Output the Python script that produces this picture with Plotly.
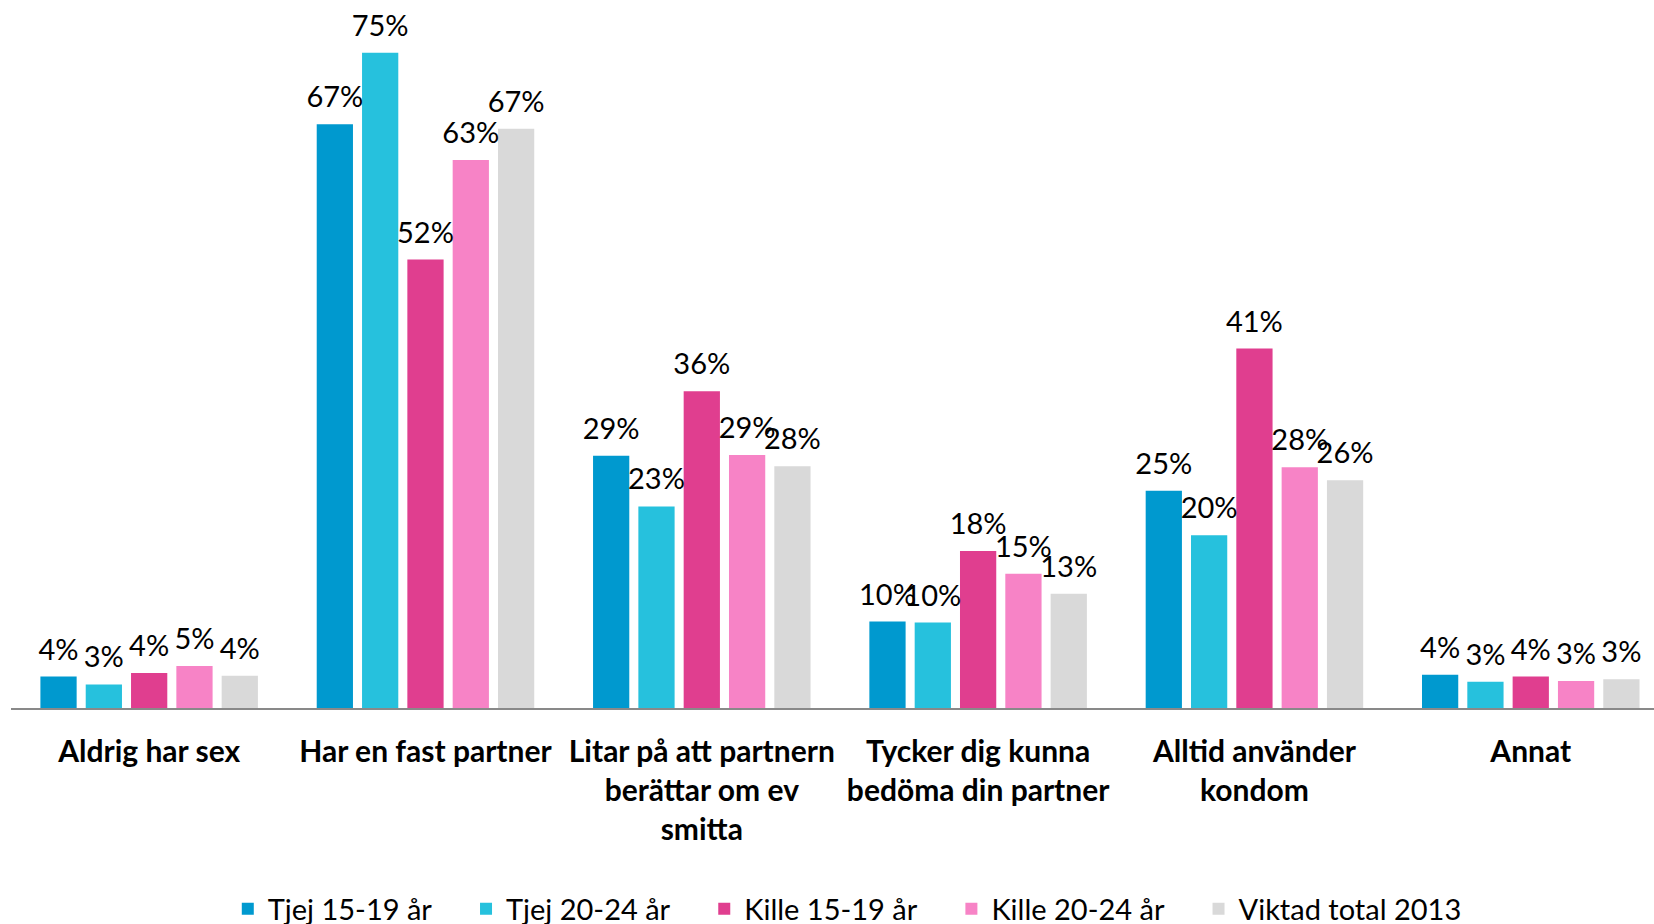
import plotly.graph_objects as go

categories = [
    "Aldrig har sex",
    "Har en fast partner",
    "Litar på att partnern<br>berättar om ev<br>smitta",
    "Tycker dig kunna<br>bedöma din partner",
    "Alltid använder<br>kondom",
    "Annat",
]
series_names = ["Tjej 15-19 år", "Tjej 20-24 år", "Kille 15-19 år", "Kille 20-24 år", "Viktad total 2013"]
tjej_15_19 = [3.6, 66.9, 28.9, 9.9, 24.9, 3.8]
tjej_20_24 = [2.7, 75.1, 23.1, 9.8, 19.8, 3.0]
kille_15_19 = [4.0, 51.4, 36.3, 18.0, 41.2, 3.6]
kille_20_24 = [4.8, 62.8, 29.0, 15.4, 27.6, 3.1]
viktad_total = [3.7, 66.4, 27.7, 13.1, 26.1, 3.3]
labels = [
    ["4%", "67%", "29%", "10%", "25%", "4%"],
    ["3%", "75%", "23%", "10%", "20%", "3%"],
    ["4%", "52%", "36%", "18%", "41%", "4%"],
    ["5%", "63%", "29%", "15%", "28%", "3%"],
    ["4%", "67%", "28%", "13%", "26%", "3%"],
]
colors = ["#0099CF", "#26C1DD", "#E03E8F", "#F783C6", "#D9D9D9"]

series = [tjej_15_19, tjej_20_24, kille_15_19, kille_20_24, viktad_total]
FONT = "Lato, Carlito, Calibri, sans-serif"
PAD = "\u00a0" * 4  # extra space between legend entries

fig = go.Figure()
for i, (name, vals, col) in enumerate(zip(series_names, series, colors)):
    fig.add_trace(go.Bar(
        x=categories, y=vals, name=name + (PAD if i < len(series_names) - 1 else ""),
        marker=dict(color=col, line=dict(width=0)),
        hoverinfo="skip", offsetgroup=name,
    ))
for name, vals, txt in zip(series_names, series, labels):
    fig.add_trace(go.Scatter(
        x=categories, y=vals, mode="markers+text", text=txt, textposition="top center",
        marker=dict(size=14, opacity=0), textfont=dict(size=29, color="#000000", family=FONT),
        showlegend=False, hoverinfo="skip", offsetgroup=name, cliponaxis=False,
    ))

fig.update_layout(
    width=1654, height=924,
    margin=dict(l=11, r=0, t=10, b=216, autoexpand=False),
    barmode="group", bargap=0.18, bargroupgap=0.2,
    scattermode="group", scattergap=0.18,
    plot_bgcolor="white", paper_bgcolor="white",
    font=dict(family=FONT, color="#000000"),
    showlegend=True,
    legend=dict(
        orientation="h", x=0.509, xanchor="center", y=-0.288, yanchor="middle",
        font=dict(size=29, family=FONT, color="#000000"), itemclick=False,
        traceorder="normal",
    ),
    xaxis=dict(
        showline=True, linecolor="#898989", linewidth=2, showgrid=False,
        ticks="outside", ticklen=16, tickcolor="rgba(0,0,0,0)",
        tickfont=dict(size=30, family=FONT, color="#000000", weight="bold"),
        tickangle=0, automargin=False,
        # the original chart runs slightly past the right edge of the picture
        range=[-0.5, 5.446],
    ),
    yaxis=dict(range=[0, 80], visible=False, showgrid=False, zeroline=False, automargin=False),
)

# remove the page's default body margin / scrollbars so the figure fills the window
fig.write_html(
    "out.html",
    config={"displayModeBar": False},
    post_script="document.body.style.margin='0';document.body.style.overflow='hidden';",
)
